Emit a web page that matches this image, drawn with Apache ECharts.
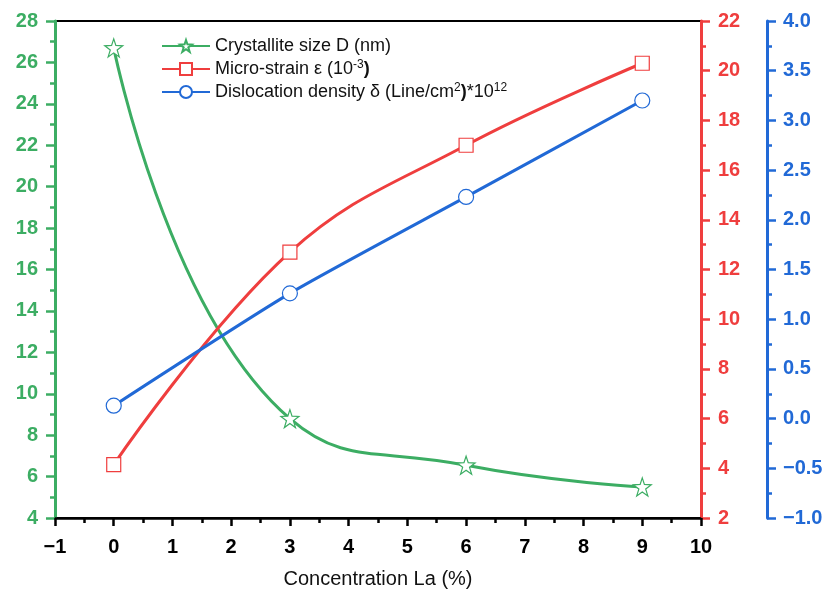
<!DOCTYPE html>
<html>
<head>
<meta charset="utf-8">
<script src="https://cdn.jsdelivr.net/npm/echarts@6/dist/echarts.min.js"></script>
<style>
  html, body { margin: 0; padding: 0; background: #fff; }
  #chart { width: 829px; height: 590px; }
</style>
</head>
<body>
<div id="chart"></div>
<script>
// La concentration (%)
var concentration = [0, 3, 6, 9];
// values
var crystalliteSize = [26.7, 8.8, 6.55, 5.5];
var microStrain = [4.15, 12.7, 17.0, 20.3];
var dislocationDensity = [0.13, 1.26, 2.23, 3.2];

var green = '#3cad63';
var red = '#ef3e3e';
var blue = '#2169d6';

function minus(v) {
  return String(v).replace('-', '\u2212');
}
function pairs(ys) {
  return concentration.map(function (x, i) { return [x, ys[i]]; });
}

var chart = echarts.init(document.getElementById('chart'));

var yBase = {
  type: 'value',
  splitLine: { show: false },
  axisTick: { show: true, inside: false, length: 9, lineStyle: { width: 2.5 } },
  minorTick: { show: true, splitNumber: 2, length: 5, lineStyle: { width: 2.5 } },
  axisLabel: { fontFamily: 'Arial', fontWeight: 'bold', fontSize: 20, margin: 17 }
};

chart.setOption({
  animation: false,
  grid: {
    left: 55, right: 128, top: 21, bottom: 72,
    outerBoundsMode: 'none',
    show: true, borderColor: '#000', borderWidth: 2
  },
  legend: {
    left: 156, top: 31, orient: 'vertical',
    itemWidth: 48, itemHeight: 15, itemGap: 3,
    textStyle: {
      fontFamily: 'Arial', fontSize: 18, color: '#111', lineHeight: 20,
      rich: {
        t: { fontFamily: 'Arial', fontSize: 18, color: '#111', lineHeight: 20 },
        b: { fontFamily: 'Arial', fontSize: 18, color: '#111', fontWeight: 'bold', lineHeight: 20 },
        sup: { fontFamily: 'Arial', fontSize: 12, color: '#111', verticalAlign: 'top', lineHeight: 12 }
      }
    },
    formatter: function (name) {
      if (name.indexOf('Micro') === 0) return '{t|Micro-strain \u03b5 (10}{sup|-3}{b|)}';
      if (name.indexOf('Dislocation') === 0) return '{t|Dislocation density \u03b4 (Line/cm}{sup|2}{b|)}{t|*10}{sup|12}';
      return '{t|' + name + '}';
    },
    data: ['Crystallite size D (nm)', 'Micro-strain \u03b5 (10-3)', 'Dislocation density \u03b4 (Line/cm2)*1012']
  },
  xAxis: {
    type: 'value', min: -1, max: 10, interval: 1,
    name: 'Concentration La (%)', nameLocation: 'middle', nameGap: 51,
    nameTextStyle: { fontFamily: 'Arial', fontSize: 20, color: '#111' },
    splitLine: { show: false },
    axisLine: { onZero: false, lineStyle: { color: '#000', width: 2.5 } },
    axisTick: { inside: false, length: 8, lineStyle: { width: 2.5 } },
    minorTick: { show: true, splitNumber: 2, length: 5, lineStyle: { width: 2.5, color: '#000' } },
    axisLabel: { fontFamily: 'Arial', fontWeight: 'bold', fontSize: 20, color: '#000', margin: 19, formatter: minus }
  },
  yAxis: [
    Object.assign({}, yBase, {
      position: 'left', min: 4, max: 28, interval: 2,
      axisLine: { show: true, onZero: false, lineStyle: { color: green, width: 3 } },
      axisLabel: Object.assign({}, yBase.axisLabel, { color: green })
    }),
    Object.assign({}, yBase, {
      position: 'right', min: 2, max: 22, interval: 2,
      axisLine: { show: true, onZero: false, lineStyle: { color: red, width: 3 } },
      axisLabel: Object.assign({}, yBase.axisLabel, { color: red })
    }),
    Object.assign({}, yBase, {
      position: 'right', offset: 66, min: -1, max: 4, interval: 0.5,
      axisLine: { show: true, onZero: false, lineStyle: { color: blue, width: 3 } },
      axisLabel: Object.assign({}, yBase.axisLabel, {
        color: blue, margin: 16,
        formatter: function (v) { return minus(v.toFixed(1)); }
      })
    })
  ],
  series: [
    {
      name: 'Crystallite size D (nm)', type: 'line', yAxisIndex: 0,
      data: pairs(crystalliteSize), smooth: 0.5,
      symbol: 'path://M50,0 L61.8,36.2 L100,38.2 L69.1,61.8 L80.9,100 L50,77.6 L19.1,100 L30.9,61.8 L0,38.2 L38.2,36.2 Z',
      symbolSize: 18,
      lineStyle: { color: green, width: 3 },
      itemStyle: { color: '#fff', borderColor: green, borderWidth: 1.2 }
    },
    {
      name: 'Micro-strain \u03b5 (10-3)', type: 'line', yAxisIndex: 1,
      data: pairs(microStrain), smooth: 0.4,
      symbol: 'rect', symbolSize: 14,
      lineStyle: { color: red, width: 3 },
      itemStyle: { color: '#fff', borderColor: red, borderWidth: 1.2 }
    },
    {
      name: 'Dislocation density \u03b4 (Line/cm2)*1012', type: 'line', yAxisIndex: 2,
      data: pairs(dislocationDensity), smooth: 0.2,
      symbol: 'circle', symbolSize: 15,
      lineStyle: { color: blue, width: 3 },
      itemStyle: { color: '#fff', borderColor: blue, borderWidth: 1.2 }
    }
  ]
});
</script>
</body>
</html>
